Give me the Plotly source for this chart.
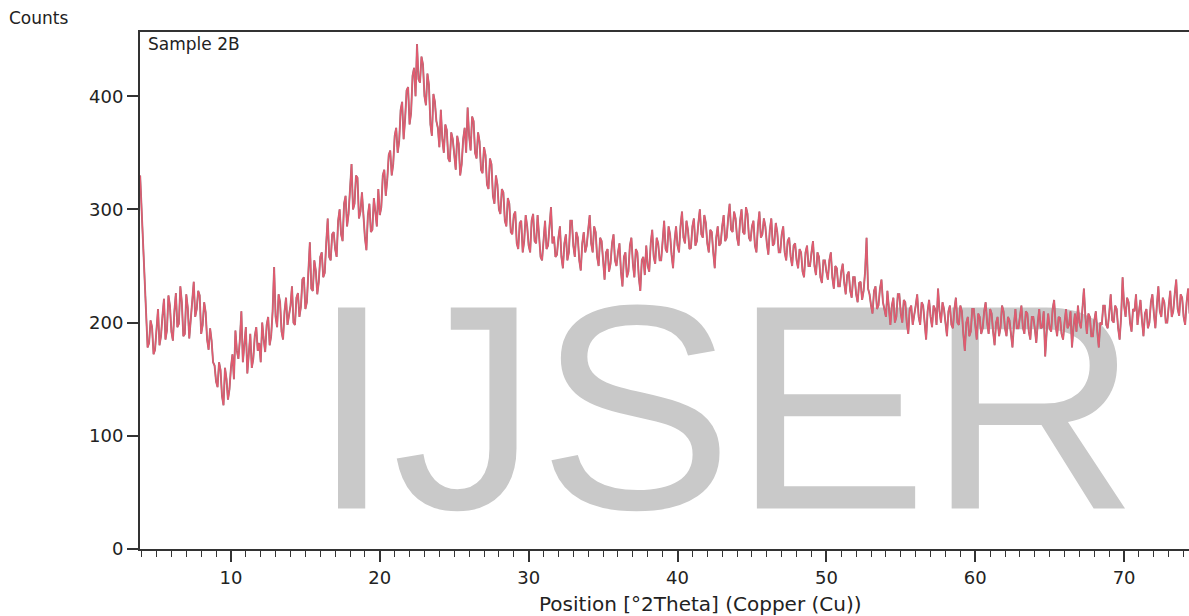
import plotly.graph_objects as go

# XRD scan: start angle and step (degrees 2Theta)
scan_start = 3.9
scan_step = 0.1

counts = [
    330, 300, 262, 228, 205, 178, 182, 202, 196, 172,
    176, 198, 212, 180, 188, 206, 221, 185, 193, 224,
    215, 192, 184, 210, 226, 196, 199, 232, 218, 188,
    190, 225, 213, 186, 203, 220, 236, 205, 212, 228,
    224, 190, 198, 218, 209, 185, 176, 195, 184, 165,
    162, 148, 143, 165, 158, 135, 127, 160, 150, 132,
    141, 160, 172, 150, 193, 175, 168, 185, 210, 165,
    178, 196, 155, 172, 190, 160, 168, 188, 196, 175,
    182, 165, 200, 185, 174, 198, 205, 180, 188, 210,
    249, 205, 196, 225, 218, 192, 185, 210, 222, 198,
    205, 215, 232, 200, 198, 222, 226, 205, 214, 238,
    240, 212, 218, 245, 271, 230, 228, 255, 246, 225,
    236, 258, 262, 240, 244, 270, 292, 258, 255, 278,
    280, 265, 258, 290, 300, 278, 272, 305, 312, 285,
    296, 318, 340, 300, 305, 330, 328, 292, 298, 315,
    290, 275, 264, 295, 305, 280, 282, 310, 298, 285,
    318, 295, 302, 330, 335, 312, 326, 348, 352, 330,
    340, 365, 372, 350, 360, 388, 395, 362, 380, 405,
    408, 375, 385, 418, 425, 400, 446, 415, 412, 435,
    428, 400, 392, 420, 410, 375, 365, 402, 395, 378,
    372, 355, 388, 362, 350, 375, 370, 345, 342, 368,
    362, 345, 335, 365, 358, 330, 340, 362, 372, 350,
    390, 365, 352, 382, 378, 350, 345, 368, 360, 335,
    332, 355, 348, 322, 318, 345, 340, 312, 305, 330,
    322, 300, 296, 318, 315, 290, 285, 310, 305, 280,
    278, 295, 298, 270, 265, 288, 290, 262, 272, 295,
    285, 268, 262, 290, 296, 272, 270, 295, 280, 258,
    255, 278, 290, 265, 268, 285, 302, 270, 276, 258,
    260, 275, 285, 258, 248, 270, 278, 255, 262, 290,
    290, 268, 258, 280, 275, 255, 246, 270, 280, 262,
    268, 282, 295, 270, 262, 285, 280, 258, 250, 275,
    272, 255, 238, 262, 265, 245, 252, 270, 278, 255,
    250, 262, 270, 245, 232, 258, 262, 240, 245, 268,
    275, 252, 240, 265, 262, 240, 228, 255, 258, 242,
    268, 250, 245, 270, 282, 258, 252, 275, 270, 255,
    255, 272, 290, 265, 262, 285, 278, 260, 248, 272,
    285, 268, 262, 285, 298, 275, 270, 290, 282, 265,
    266, 285, 292, 268, 272, 288, 300, 278, 275, 295,
    288, 270, 262, 282, 280, 262, 248, 275, 285, 268,
    270, 285, 295, 272, 275, 292, 305, 282, 280, 298,
    292, 275, 268, 290, 300, 280, 278, 302, 296, 275,
    272, 285, 290, 268, 262, 285, 298, 275, 278, 292,
    285, 270, 260, 282, 292, 268, 270, 288, 280, 262,
    262, 278, 285, 262, 255, 272, 275, 258, 250, 268,
    270, 255, 248, 265, 262, 245, 240, 262, 268, 250,
    250, 262, 272, 250, 242, 262, 258, 240, 235, 255,
    255, 245, 238, 255, 262, 240, 230, 250, 248, 232,
    232, 245, 252, 235, 225, 242, 245, 228, 222, 240,
    240, 225, 218, 235, 236, 220, 228, 245, 275, 230,
    225, 215, 208, 228, 232, 212, 215, 230, 238, 218,
    212, 205, 228, 210, 198, 215, 222, 200, 205, 225,
    225, 208, 200, 220, 218, 200, 190, 212, 215, 198,
    205, 215, 225, 205, 198, 218, 215, 200, 185, 210,
    220, 205, 196, 215, 212, 198, 230, 210, 200, 218,
    212, 200, 188, 210, 215, 198, 195, 212, 222, 200,
    198, 215, 210, 190, 175, 200, 205, 188, 192, 212,
    212, 198, 185, 208, 205, 190, 195, 210, 218, 200,
    190, 212, 208, 192, 180, 200, 205, 188, 196, 215,
    210, 195, 188, 205, 202, 190, 178, 198, 212, 195,
    195, 205, 215, 196, 190, 210, 208, 192, 185, 205,
    205, 195, 182, 200, 212, 195, 196, 210, 170, 192,
    208, 195, 192, 212, 220, 198, 188, 205, 204, 190,
    185, 200, 212, 195, 198, 210, 178, 196, 208, 192,
    215, 200, 195, 212, 230, 205, 190, 208, 205, 188,
    188, 202, 210, 192, 178, 200, 198, 215, 215, 198,
    195, 208, 225, 202, 200, 215, 212, 195, 185, 205,
    240, 215, 205, 222, 218, 200, 192, 212, 210, 225,
    198, 210, 220, 202, 188, 208, 212, 195, 200, 218,
    225, 208, 195, 215, 232, 210, 205, 222, 218, 200,
    200, 215, 228, 205, 210, 225, 238, 212, 206, 225,
    222, 205, 198, 218, 230, 208, 212, 228, 218, 205,
]

positions = [round(scan_start + i * scan_step, 2) for i in range(len(counts))]

x_ticks = [10, 20, 30, 40, 50, 60, 70]
y_ticks = [0, 100, 200, 300, 400]

FONT = "DejaVu Sans, Verdana, sans-serif"
WM_FONT = "Liberation Sans, Arial, sans-serif"

fig = go.Figure()
fig.add_trace(go.Scatter(x=positions, y=counts, mode="lines",
                         line=dict(color="#94767c", width=1.9), hoverinfo="skip"))
fig.add_trace(go.Scatter(x=positions, y=counts, mode="lines",
                         line=dict(color="#e35a6f", width=1.4)))

fig.update_layout(
    width=1189, height=616,
    margin=dict(l=140, r=0, t=32, b=67),
    paper_bgcolor="white", plot_bgcolor="white",
    showlegend=False,
    font=dict(family=FONT, size=18, color="#222"),
    xaxis=dict(range=[3.89, 74.36], tickvals=x_ticks, ticks="outside", ticklen=11,
               tickwidth=1.5, tickcolor="#333", showline=True, linecolor="#333",
               linewidth=2, mirror=True, showgrid=False, zeroline=False,
               minor=dict(dtick=1, tick0=0, ticks="outside", ticklen=6,
                          tickwidth=1.2, tickcolor="#333", showgrid=False),
               tickfont=dict(size=18, color="#222")),
    yaxis=dict(range=[0, 456.7], tickvals=y_ticks, ticks="outside", ticklen=11,
               tickwidth=1.5, tickcolor="#333", showline=True, linecolor="#333",
               linewidth=2, showgrid=False, zeroline=False,
               tickfont=dict(size=18, color="#222")),
    shapes=[dict(type="rect", xref="paper", yref="paper",
                 x0=0.295, x1=0.82, y0=0.103, y1=0.553, layer="below",
                 line=dict(width=0), fillcolor="rgba(0,0,0,0)",
                 label=dict(text="IJSER", textposition="middle center",
                            font=dict(size=292, color="#c9c9c9", family=WM_FONT)))],
    annotations=[
        dict(text="Counts", xref="paper", yref="paper", x=-0.127, y=1.027,
             xanchor="left", yanchor="middle", showarrow=False,
             font=dict(size=17, color="#222")),
        dict(text="Sample 2B", xref="paper", yref="paper", x=0.006, y=1.0,
             xanchor="left", yanchor="top", showarrow=False,
             font=dict(size=17, color="#222")),
        dict(text="Position [°2Theta] (Copper (Cu))", xref="paper", yref="paper",
             x=0.534, y=-0.106, xanchor="center", yanchor="middle", showarrow=False,
             font=dict(size=20, color="#222")),
    ],
)

fig.write_html("out.html")
